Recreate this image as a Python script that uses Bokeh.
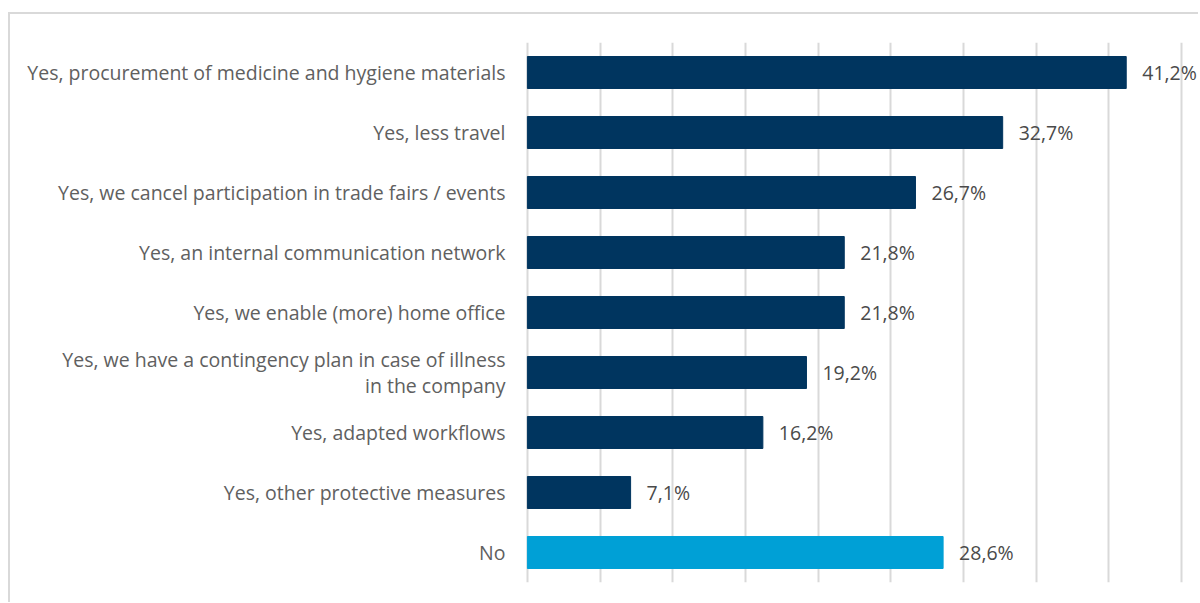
from bokeh.plotting import figure
from bokeh.models import ColumnDataSource, FactorRange, Range1d, FixedTicker
from bokeh.core.properties import value
from bokeh.embed import file_html
from bokeh.resources import INLINE

categories = [
    "Yes, procurement of medicine and hygiene materials",
    "Yes, less travel",
    "Yes, we cancel participation in trade fairs / events",
    "Yes, an internal communication network",
    "Yes, we enable (more) home office",
    "Yes, we have a contingency plan in case of illness\nin the company",
    "Yes, adapted workflows",
    "Yes, other protective measures",
    "No",
]
values = [41.2, 32.7, 26.7, 21.8, 21.8, 19.2, 16.2, 7.1, 28.6]
labels = ["41,2%", "32,7%", "26,7%", "21,8%", "21,8%", "19,2%", "16,2%", "7,1%", "28,6%"]
colors = ["#00355f"] * 8 + ["#00a0d6"]
grid_ticks = [0, 5, 10, 15, 20, 25, 30, 35, 40, 45]

src = ColumnDataSource(dict(cat=categories, val=values, lab=labels, col=colors))

p = figure(width=1190, height=590, output_backend="svg", toolbar_location=None,
           y_range=FactorRange(factors=list(reversed(categories)), range_padding=0),
           x_range=Range1d(-0.2, 46.31),
           min_border_left=514, min_border_right=0, min_border_top=28, min_border_bottom=22,
           styles={"margin-left": "8px", "margin-top": "12px",
                   "border-left": "2px solid #d9d9d9", "border-top": "2px solid #d9d9d9"})

p.hbar(y="cat", right="val", left=0, height=0.533, color="col", source=src)
p.text(x="val", y="cat", text="lab", source=src, x_offset=16, text_baseline="middle",
       text_align="left", text_font=value("Open Sans"), text_font_size="19.5px",
       text_color="#4a4a4a")

p.xaxis.visible = False
yax = p.yaxis[0]
yax.axis_line_color = None
yax.major_tick_line_color = None
yax.minor_tick_line_color = None
yax.major_tick_out = 0
yax.major_tick_in = 0
yax.major_label_standoff = 19
yax.major_label_text_font = "Open Sans"
yax.major_label_text_font_size = "19.5px"
yax.major_label_text_color = "#606060"
yax.major_label_text_line_height = 0.98

p.ygrid.grid_line_color = None
p.xgrid.ticker = FixedTicker(ticks=grid_ticks)
p.xgrid.grid_line_color = "#d9d9d9"
p.xgrid.grid_line_width = 2
p.outline_line_color = None
p.background_fill_color = "white"
p.border_fill_color = "white"

open("out.html", "w").write(file_html(p, INLINE))
